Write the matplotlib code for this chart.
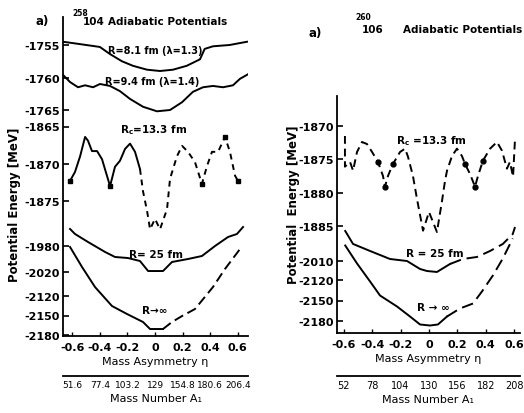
import matplotlib
matplotlib.use("Agg")
import matplotlib.pyplot as plt

# ---------------- data ----------------
# 258-104 panel (left)
eta_258_r81 = [-0.667, -0.565, -0.40, -0.326, -0.24, -0.16, -0.058, 0.036, 0.13,
               0.23, 0.326, 0.36, 0.42, 0.54, 0.667]
e_258_r81 = [-1754.5, -1754.8, -1755.3, -1756.4, -1757.5, -1758.2, -1758.8, -1759.0,
             -1758.8, -1758.2, -1757.2, -1755.6, -1755.2, -1755.0, -1754.5]

eta_258_r94 = [-0.667, -0.616, -0.558, -0.507, -0.449, -0.399, -0.326, -0.254, -0.181,
               -0.087, 0.014, 0.109, 0.196, 0.275, 0.348, 0.42, 0.493, 0.565, 0.616, 0.674]
e_258_r94 = [-1759.6, -1760.7, -1761.5, -1761.2, -1761.5, -1761.0, -1761.3, -1762.1,
             -1763.3, -1764.5, -1765.2, -1765.0, -1763.8, -1762.2, -1761.5, -1761.3,
             -1761.5, -1761.2, -1760.2, -1759.5]

eta_258_rc = [-0.616, -0.58, -0.543, -0.507, -0.486, -0.457, -0.42, -0.384, -0.326,
              -0.29, -0.254, -0.217, -0.181, -0.145, -0.109, -0.087, -0.058, -0.036,
              0.0, 0.036, 0.087, 0.109, 0.159, 0.196, 0.239, 0.29, 0.34, 0.377, 0.413,
              0.457, 0.507, 0.543, 0.58, 0.601]
e_258_rc = [-1872.3, -1871.1, -1869.0, -1866.4, -1866.9, -1868.3, -1868.3, -1869.4,
            -1873.0, -1870.4, -1869.6, -1868.0, -1867.3, -1868.4, -1870.7, -1873.7,
            -1876.3, -1878.8, -1877.4, -1878.8, -1876.1, -1872.0, -1869.0, -1867.6,
            -1868.4, -1869.8, -1872.7, -1870.3, -1868.4, -1868.4, -1866.4, -1868.4,
            -1871.6, -1872.3]
dots_258_rc = [0, 8, 26, 30, 33]

eta_258_r25 = [-0.616, -0.58, -0.486, -0.362, -0.29, -0.196, -0.109, -0.05, 0.058,
               0.123, 0.239, 0.34, 0.435, 0.529, 0.594, 0.638]
e_258_r25 = [-1953.8, -1961.5, -1973.8, -1989.2, -1996.9, -1998.5, -2003.1, -2018.5,
             -2018.5, -2004.6, -2000.0, -1995.4, -1980.0, -1966.2, -1961.5, -1950.8]

eta_258_rinf = [-0.616, -0.529, -0.435, -0.312, -0.203, -0.087, -0.036, 0.058, 0.123,
                0.196, 0.29, 0.42, 0.507, 0.616]
e_258_rinf = [-2044.6, -2075.4, -2106.2, -2135.4, -2147.7, -2160.0, -2170.8, -2170.8,
              -2160.0, -2150.8, -2140.0, -2106.2, -2078.5, -2047.7]

# 260-106 panel (right)
eta_260_rc = [-0.592, -0.592, -0.556, -0.535, -0.507, -0.472, -0.437, -0.401, -0.359,
              -0.324, -0.31, -0.289, -0.254, -0.204, -0.169, -0.148, -0.113, -0.085,
              -0.042, 0.0, 0.056, 0.092, 0.113, 0.127, 0.162, 0.197, 0.232, 0.254,
              0.289, 0.324, 0.345, 0.38, 0.43, 0.479, 0.514, 0.549, 0.570, 0.592, 0.606]
e_260_rc = [-1871.5, -1876.1, -1875.4, -1876.7, -1873.9, -1872.4, -1872.7, -1873.9,
            -1875.4, -1877.5, -1879.1, -1877.5, -1875.7, -1873.9, -1873.4, -1874.6,
            -1877.5, -1880.9, -1885.7, -1882.9, -1885.9, -1881.2, -1878.2, -1876.7,
            -1874.5, -1873.4, -1874.5, -1875.7, -1877.2, -1879.1, -1877.5, -1875.2,
            -1873.4, -1872.4, -1873.7, -1876.4, -1875.4, -1877.6, -1871.9]
dots_260_rc = [8, 10, 12, 27, 29, 31]

eta_260_r25 = [-0.59, -0.535, -0.415, -0.275, -0.155, -0.063, -0.014, 0.056, 0.148,
               0.239, 0.338, 0.43, 0.52, 0.59, 0.606]
e_260_r25 = [-1963.8, -1983.8, -1994.6, -2006.9, -2010.0, -2022.3, -2025.4, -2026.9,
             -2014.6, -2006.9, -2003.8, -1994.6, -1983.8, -1968.5, -1957.7]

eta_260_rinf = [-0.59, -0.507, -0.415, -0.345, -0.225, -0.134, -0.063, 0.007, 0.063,
                0.127, 0.218, 0.31, 0.373, 0.45, 0.52, 0.59]
e_260_rinf = [-2069.5, -2095.8, -2122.2, -2142.7, -2158.8, -2173.4, -2185.1, -2186.6,
              -2185.1, -2173.4, -2161.7, -2154.4, -2136.8, -2113.4, -2088.5, -2059.2]

# axis annotations
eta_ticks = [-0.6, -0.4, -0.2, 0.0, 0.2, 0.4, 0.6]
eta_labels = ["-0.6", "-0.4", "-0.2", "0", "0.2", "0.4", "0.6"]
mass_258 = ["51.6", "77.4", "103.2", "129", "154.8", "180.6", "206.4"]
mass_260 = ["52", "78", "104", "130", "156", "182", "208"]

yt_258_top = [-1755, -1760, -1765]
yt_258_mid = [-1865, -1870, -1875]
yt_258_r25 = [-1980, -2020]
yt_258_inf = [-2120, -2150, -2180]
yt_260_mid = [-1870, -1875, -1880, -1885]
yt_260_r25 = [-2010]
yt_260_inf = [-2120, -2150, -2180]

# ---------------- drawing ----------------
W, H = 524, 414
plt.rcParams.update({
    "font.family": "DejaVu Sans",
    "font.weight": "bold",
    "mathtext.default": "regular",
    "axes.linewidth": 1.3,
})
fig = plt.figure(figsize=(W / 100, H / 100), dpi=100)
INK = "black"
LW = 1.4
TICK_FS = 8
LABEL_FS = 7.5


def rect(l, t, r, b):
    return [l / W, 1 - b / H, (r - l) / W, (b - t) / H]


def ylim_for(va, pa, vb, pb, top, bottom):
    k = (vb - va) / (pb - pa)
    return (va + (bottom - pa) * k, va + (top - pa) * k)


def base_axes(box, xlim, sec_loc, masses, mass_fs):
    ax = fig.add_axes(rect(*box))
    ax.set_facecolor("none")
    ax.set_xlim(*xlim)
    ax.spines["top"].set_visible(False)
    ax.spines["right"].set_visible(False)
    ax.set_yticks([])
    ax.set_xticks(eta_ticks, labels=eta_labels)
    ax.tick_params(axis="x", direction="in", length=3, width=1, pad=4, labelsize=TICK_FS)
    ax.set_xlabel("Mass Asymmetry η", fontsize=8, labelpad=3)
    sec = ax.secondary_xaxis(sec_loc)
    sec.set_xticks(eta_ticks, labels=masses)
    sec.tick_params(axis="x", length=0, pad=3, labelsize=mass_fs)
    for lab in sec.get_xticklabels():
        lab.set_fontweight("normal")
    sec.spines["bottom"].set_linewidth(1.3)
    sec.set_xlabel("Mass Number A₁", fontsize=8, labelpad=3)
    return ax


def group_axes(base, box, lim, ticks):
    g = fig.add_axes(rect(*box), sharex=base)
    g.set_facecolor("none")
    for s in g.spines.values():
        s.set_visible(False)
    g.set_ylim(*lim)
    g.set_yticks(ticks, labels=[f"-{abs(t)}" for t in ticks])
    g.tick_params(axis="y", direction="in", length=4, width=1.2, pad=2, labelsize=TICK_FS)
    g.tick_params(axis="x", bottom=False, labelbottom=False)
    return g


# left panel
boxL = (63, 18, 248, 337)
axL = base_axes(boxL, (-0.667, 0.674), -0.125, mass_258, 6.5)
gT = group_axes(axL, boxL, ylim_for(-1755, 46, -1765, 111, 18, 337), yt_258_top)
gM = group_axes(axL, boxL, ylim_for(-1865, 127.5, -1875, 202, 18, 337), yt_258_mid)
g25 = group_axes(axL, boxL, ylim_for(-1980, 247, -2020, 273, 18, 337), yt_258_r25)
gI = group_axes(axL, boxL, ylim_for(-2120, 297, -2180, 336, 18, 337), yt_258_inf)

gT.plot(eta_258_r81, e_258_r81, color=INK, lw=LW)
gT.plot(eta_258_r94, e_258_r94, color=INK, lw=LW)
gM.plot(eta_258_rc[:15], e_258_rc[:15], color=INK, lw=LW)
gM.plot(eta_258_rc[14:], e_258_rc[14:], color=INK, lw=LW, ls=(0, (3, 2.5)))
gM.plot(eta_258_rc, e_258_rc, ls="none", marker="s", ms=3, color=INK,
        markevery=dots_258_rc)
g25.plot(eta_258_r25, e_258_r25, color=INK, lw=LW)
gI.plot(eta_258_rinf[:8], e_258_rinf[:8], color=INK, lw=LW)
gI.plot(eta_258_rinf[7:], e_258_rinf[7:], color=INK, lw=LW, ls=(0, (5, 2.5)))

gT.text(0.0, -1755.7, "R=8.1 fm (λ=1.3)", ha="center", va="center", fontsize=7)
gT.text(-0.02, -1760.6, "R=9.4 fm (λ=1.4)", ha="center", va="center", fontsize=7)
gM.text(-0.01, -1865.3, "R$_c$=13.3 fm", ha="center", va="center", fontsize=LABEL_FS)
g25.text(0.01, -1992, "R= 25 fm", ha="center", va="center", fontsize=LABEL_FS)
gI.text(0.0, -2141, "R→∞", ha="center", va="center", fontsize=LABEL_FS)

# right panel
boxR = (337, 97, 520, 334)
axR = base_axes(boxR, (-0.648, 0.641), -0.181, mass_260, 7)
hM = group_axes(axR, boxR, ylim_for(-1870, 127, -1885, 227, 97, 334), yt_260_mid)
h25 = group_axes(axR, boxR, ylim_for(-2010, 262, -2060, 294.5, 97, 334), yt_260_r25)
hI = group_axes(axR, boxR, ylim_for(-2120, 281, -2180, 322, 97, 334), yt_260_inf)

hM.plot(eta_260_rc, e_260_rc, color=INK, lw=LW, ls=(0, (4, 2.5)))
hM.plot(eta_260_rc, e_260_rc, ls="none", marker="o", ms=3.5, color=INK,
        markevery=dots_260_rc)
h25.plot(eta_260_r25[:9], e_260_r25[:9], color=INK, lw=LW)
h25.plot(eta_260_r25[8:], e_260_r25[8:], color=INK, lw=LW, ls=(0, (6, 3)))
hI.plot(eta_260_rinf[:10], e_260_rinf[:10], color=INK, lw=LW)
hI.plot(eta_260_rinf[9:], e_260_rinf[9:], color=INK, lw=LW, ls=(0, (6, 3)))

hM.text(0.02, -1872.1, "R$_c$ =13.3 fm", ha="center", va="center", fontsize=LABEL_FS)
h25.text(0.04, -1998, "R = 25 fm", ha="center", va="center", fontsize=LABEL_FS)
hI.text(0.03, -2160, "R → ∞", ha="center", va="center", fontsize=LABEL_FS)


# titles and y labels
def ftext(px, py, s, **kw):
    fig.text(px / W, 1 - py / H, s, **kw)


ftext(42, 22, "a)", fontsize=8.5, ha="center", va="center")
ftext(80, 13, "258", fontsize=5.5, ha="center", va="center")
ftext(94, 22, "104", fontsize=7.5, ha="center", va="center")
ftext(168, 22, "Adiabatic Potentials", fontsize=7.5, ha="center", va="center")
ftext(15, 205, "Potential Energy [MeV]", fontsize=8.5, rotation=90,
      ha="center", va="center")

ftext(315, 33, "a)", fontsize=8.5, ha="center", va="center")
ftext(363, 18, "260", fontsize=5.5, ha="center", va="center")
ftext(373, 30, "106", fontsize=7.5, ha="center", va="center")
ftext(463, 30, "Adiabatic Potentials", fontsize=7.5, ha="center", va="center")
ftext(293, 205, "Potential  Energy [MeV]", fontsize=8.5, rotation=90,
      ha="center", va="center")

fig.savefig("out.png", dpi=100, facecolor="white")
